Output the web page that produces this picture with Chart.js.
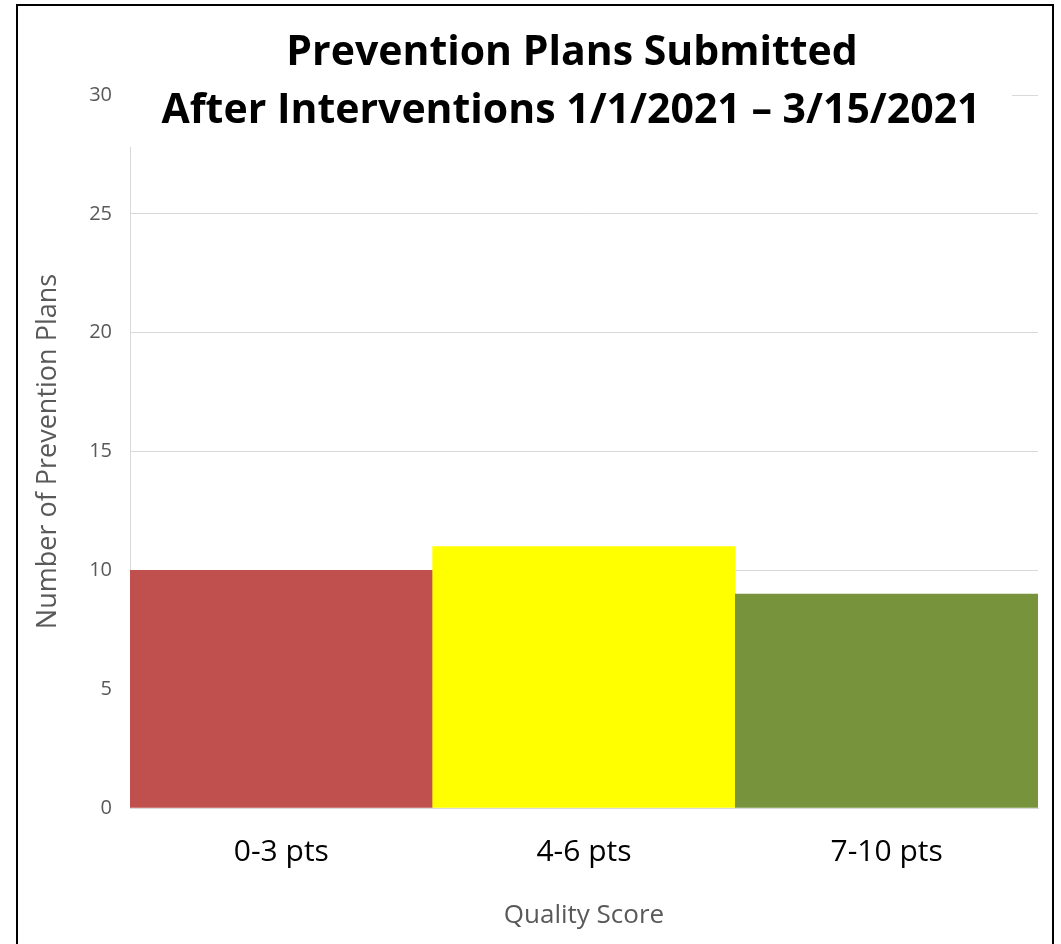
<!DOCTYPE html>
<html>
<head>
<meta charset="utf-8">
<script src="https://cdn.jsdelivr.net/npm/chart.js@4/dist/chart.umd.min.js"></script>
<style>
  html, body { margin: 0; padding: 0; background: #fff; }
  #wrap { position: relative; width: 1061px; height: 944px; overflow: hidden; }
  #c { position: absolute; left: 0; top: 0; }
  #frame { position: absolute; left: 16px; top: 4px; width: 1038px; height: 960px; border: 2px solid #000; box-sizing: border-box; pointer-events: none; }
</style>
</head>
<body>
<div id="wrap">
  <canvas id="c" width="1061" height="944"></canvas>
  <div id="frame"></div>
</div>
<script>
const titleLines = ["Prevention Plans Submitted", "After Interventions 1/1/2021 \u2013 3/15/2021"];
const categories = ["0-3 pts", "4-6 pts", "7-10 pts"];
const planCounts = [10, 11, 9];
const barColors = ["#C0504D", "#FFFF00", "#77933C"];
const yTitle = "Number of Prevention Plans";
const xTitle = "Quality Score";

const titleBox = {
  id: 'titleBox',
  afterDraw(chart) {
    const ctx = chart.ctx;
    ctx.save();
    ctx.fillStyle = '#ffffff';
    ctx.fillRect(127, 6, 885, 141);
    ctx.fillStyle = '#000000';
    ctx.textAlign = 'center';
    ctx.textBaseline = 'middle';
    ctx.font = 'bold 41px "Open Sans", sans-serif';
    ctx.fillText(titleLines[0], 572, 53);
    ctx.fillText(titleLines[1], 571, 111);
    ctx.restore();
  }
};

new Chart(document.getElementById('c'), {
  type: 'bar',
  data: {
    labels: categories,
    datasets: [{
      data: planCounts,
      backgroundColor: barColors,
      borderWidth: 0,
      barPercentage: 1.0,
      categoryPercentage: 1.0
    }]
  },
  options: {
    responsive: false,
    animation: false,
    layout: { padding: { left: 32, top: 95, right: 23, bottom: 0 } },
    plugins: { legend: { display: false }, tooltip: { enabled: false } },
    scales: {
      x: {
        grid: { display: false, drawTicks: false },
        border: { display: true, color: '#d9d9d9', width: 1 },
        ticks: { color: '#000000', font: { family: '"Open Sans", sans-serif', size: 30 }, padding: 26, maxRotation: 0 },
        title: { display: true, text: xTitle, color: '#595959', font: { family: '"Open Sans", sans-serif', size: 26 }, padding: { top: 0, bottom: 13 } },
        afterFit(scale) { scale.height = 136; }
      },
      y: {
        min: 0, max: 30,
        grid: { color: '#d9d9d9', drawTicks: false, lineWidth: 1 },
        border: { display: true, color: '#d9d9d9', width: 1 },
        ticks: { stepSize: 5, color: '#595959', font: { family: '"Open Sans", sans-serif', size: 20 }, padding: 18 },
        title: { display: true, text: yTitle, color: '#595959', font: { family: '"Open Sans", sans-serif', size: 27 }, padding: { top: 0, bottom: 0 } },
        afterFit(scale) { scale.width = 98; }
      }
    }
  },
  plugins: [titleBox]
});
</script>
</body>
</html>
